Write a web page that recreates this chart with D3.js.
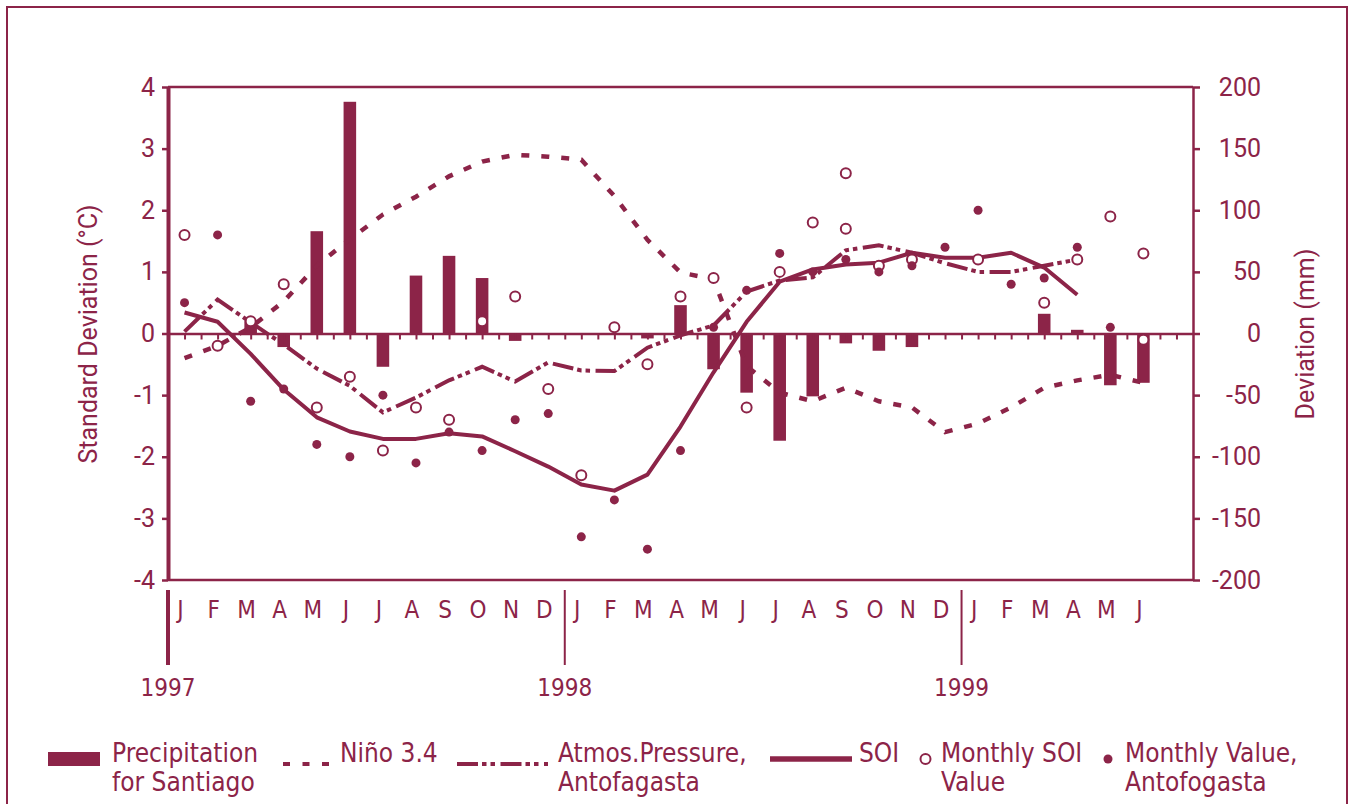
<!DOCTYPE html>
<html>
<head>
<meta charset="utf-8">
<script src="https://cdn.jsdelivr.net/npm/d3@7"></script>
<style>
  body { margin: 0; background: #fff; }
  svg { display: block; }
</style>
</head>
<body>
<svg id="chart-svg" width="1349" height="804"></svg>
<script>
// Month categories, Jan 1997 to Jul 1999
const categories = [
    "1997-01", "1997-02", "1997-03", "1997-04", "1997-05", "1997-06",
    "1997-07", "1997-08", "1997-09", "1997-10", "1997-11", "1997-12",
    "1998-01", "1998-02", "1998-03", "1998-04", "1998-05", "1998-06",
    "1998-07", "1998-08", "1998-09", "1998-10", "1998-11", "1998-12",
    "1999-01", "1999-02", "1999-03", "1999-04", "1999-05", "1999-06",
    "1999-07"
];
const monthTicks = [
    "J", "F", "M", "A", "M", "J", "J", "A", "S", "O", "N", "D",
    "J", "F", "M", "A", "M", "J", "J", "A", "S", "O", "N", "D",
    "J", "F", "M", "A", "M", "J", ""
];
const yearTicks = ["1997", "1998", "1999"];
const yearStarts = ["1997-01", "1998-01", "1999-01"];
const leftTicks = [-4, -3, -2, -1, 0, 1, 2, 3, 4];
const rightTicks = [-200, -150, -100, -50, 0, 50, 100, 150, 200];

// Precipitation for Santiago, deviation (mm), right axis
const precipitation = [
    null, null, 10, -11, 83, 188, -27, 47, 63, 45, -6, null,
    null, null, -4, 23, -29, -48, -87, -51, -8, -14, -11, null,
    null, null, 16, 3, -42, -40, null
];
// Niño 3.4 (standard deviation)
const nino34 = [
    -0.4, -0.2, 0.1, 0.52, 1.1, 1.53, 1.93, 2.22, 2.55, 2.79, 2.9, 2.87,
    2.82, 2.23, 1.52, 0.99, 0.88, -0.53, -0.96, -1.1, -0.88, -1.1, -1.2, -1.6,
    -1.46, -1.2, -0.88, -0.76, -0.67, -0.8
];
// Atmospheric pressure, Antofagasta
const atmosPressure = [
    0.03, 0.55, 0.18, -0.18, -0.57, -0.85, -1.28, -1.04, -0.76, -0.54, -0.78, -0.47,
    -0.6, -0.61, -0.23, -0.03, 0.13, 0.68, 0.86, 0.91, 1.35, 1.43, 1.31, 1.14,
    1.0, 1.0, 1.1, 1.2
];
// SOI
const soi = [
    0.34, 0.19, -0.33, -0.91, -1.36, -1.59, -1.71, -1.71, -1.62, -1.67, -1.91, -2.16,
    -2.45, -2.55, -2.29, -1.51, -0.63, 0.19, 0.84, 1.04, 1.12, 1.15, 1.31, 1.23,
    1.23, 1.31, 1.07, 0.63
];
// Monthly SOI value
const monthlySoi = [
    1.6, -0.2, 0.2, 0.8, -1.2, -0.7, -1.9, -1.2, -1.4, 0.2, 0.6, -0.9,
    -2.3, 0.1, -0.5, 0.6, 0.9, -1.2, 1.0, 1.8, 1.7, 1.1, 1.2, null,
    1.2, null, 0.5, 1.2, 1.9, 1.3, null
];
const monthlySoiExtraMonths = ["1998-09", "1999-06"];
const monthlySoiExtraValues = [2.6, -0.1];
// Monthly value, Antofagasta
const monthlyAntofagasta = [
    0.5, 1.6, -1.1, -0.9, -1.8, -2.0, -1.0, -2.1, -1.6, -1.9, -1.4, -1.3,
    -3.3, -2.7, -3.5, -1.9, 0.1, 0.7, 1.3, 1.0, 1.2, 1.0, 1.1, 1.4,
    2.0, 0.8, 0.9, 1.4, 0.1, null, null
];

const color = "#8C2448";
const condensed = "'DejaVu Sans Condensed', 'DejaVu Sans', sans-serif";
const plain = "Roboto, 'Liberation Sans', sans-serif";

// Function to draw the whole chart
function drawChart() {
    const size = { left: 168, right: 1193, top: 87, bottom: 580 };
    const svg = d3.select("#chart-svg");

    // Outer frame
    svg.append("rect")
        .attr("x", 7).attr("y", 7)
        .attr("width", 1340).attr("height", 840)
        .attr("fill", "none")
        .attr("stroke", color)
        .attr("stroke-width", 2);

    // Scales
    const x = d3.scaleBand().domain(categories).range([size.left, size.right]);
    const cx = c => x(c) + x.bandwidth() / 2;
    const xHalf = d3.scaleLinear().domain([0, categories.length]).range([size.left, size.right]);
    const yLeft = d3.scaleLinear().domain([-4, 4]).range([size.bottom, size.top]);
    const yRight = d3.scaleLinear().domain([-200, 200]).range([size.bottom, size.top]);

    const series = arr => arr.map((v, i) => ({ c: categories[i], v: v }));

    // Top and bottom frame lines
    [4, -4].forEach(v => {
        svg.append("line")
            .attr("x1", size.left).attr("x2", size.right)
            .attr("y1", yLeft(v)).attr("y2", yLeft(v))
            .attr("stroke", color)
            .attr("stroke-width", 2.5);
    });

    // Precipitation bars
    const barWidth = x.bandwidth() * 0.38;
    svg.append("g")
        .selectAll("rect")
        .data(series(precipitation).filter(d => d.v != null))
        .join("rect")
        .attr("x", d => cx(d.c) - barWidth / 2)
        .attr("y", d => yRight(Math.max(0, d.v)))
        .attr("width", barWidth)
        .attr("height", d => Math.abs(yRight(d.v) - yRight(0)))
        .attr("fill", color);

    // Zero line with half month ticks
    const zeroAxis = svg.append("g")
        .attr("transform", `translate(0, ${yLeft(0)})`)
        .call(d3.axisBottom(xHalf)
            .tickValues(d3.range(0.5, categories.length, 0.5))
            .tickSize(6)
            .tickSizeOuter(0)
            .tickFormat(""));
    zeroAxis.select(".domain").attr("stroke", color).attr("stroke-width", 2.5);
    zeroAxis.selectAll(".tick line").attr("stroke", color).attr("stroke-width", 2);

    // Left axis
    const leftAxis = svg.append("g")
        .attr("transform", `translate(${size.left}, 0)`)
        .call(d3.axisLeft(yLeft)
            .tickValues(leftTicks)
            .tickSize(6)
            .tickSizeOuter(0)
            .tickPadding(7)
            .tickFormat(d => d));
    leftAxis.select(".domain").attr("stroke", color).attr("stroke-width", 4);
    leftAxis.selectAll(".tick line").attr("stroke", color).attr("stroke-width", 2.5);
    leftAxis.selectAll("text")
        .attr("fill", color)
        .style("font-family", plain)
        .style("font-size", "25px");

    // Right axis
    const rightAxis = svg.append("g")
        .attr("transform", `translate(${size.right}, 0)`)
        .call(d3.axisRight(yRight)
            .tickValues(rightTicks)
            .tickSize(7)
            .tickSizeOuter(0)
            .tickFormat(d => d));
    rightAxis.select(".domain").attr("stroke", color).attr("stroke-width", 2.5);
    rightAxis.selectAll(".tick line").attr("stroke", color).attr("stroke-width", 2.5);
    rightAxis.selectAll("text")
        .attr("fill", color)
        .attr("x", 68)
        .attr("text-anchor", "end")
        .style("font-family", plain)
        .style("font-size", "25px");

    // Month labels below the chart
    const monthAxis = svg.append("g")
        .attr("transform", "translate(0, 590)")
        .call(d3.axisBottom(x).tickSize(0).tickFormat((d, i) => monthTicks[i]));
    monthAxis.select(".domain").remove();
    monthAxis.selectAll("text")
        .attr("y", 28)
        .attr("dy", 0)
        .attr("dx", -4)
        .attr("fill", color)
        .style("font-family", condensed)
        .style("font-size", "24px");

    // Year separators and labels
    yearStarts.forEach((c, i) => {
        svg.append("line")
            .attr("x1", x(c)).attr("x2", x(c))
            .attr("y1", 590).attr("y2", 665)
            .attr("stroke", color)
            .attr("stroke-width", i == 0 ? 4 : 2);
        svg.append("text")
            .attr("x", x(c))
            .attr("y", 696)
            .attr("text-anchor", "middle")
            .attr("fill", color)
            .style("font-family", condensed)
            .style("font-size", "24px")
            .text(yearTicks[i]);
    });

    // Lines
    const line = d3.line()
        .defined(d => d.v != null)
        .x(d => cx(d.c))
        .y(d => yLeft(d.v));

    svg.append("path")
        .datum(series(nino34))
        .attr("d", line)
        .attr("fill", "none")
        .attr("stroke", color)
        .attr("stroke-width", 4.5)
        .attr("stroke-dasharray", "8,12");

    svg.append("path")
        .datum(series(atmosPressure))
        .attr("d", line)
        .attr("fill", "none")
        .attr("stroke", color)
        .attr("stroke-width", 4)
        .attr("stroke-dasharray", "21,4,4.5,4,4.5,5.5");

    svg.append("path")
        .datum(series(soi))
        .attr("d", line)
        .attr("fill", "none")
        .attr("stroke", color)
        .attr("stroke-width", 4)
        .attr("stroke-linejoin", "round");

    // Monthly markers
    const openPoints = series(monthlySoi).filter(d => d.v != null)
        .concat(monthlySoiExtraMonths.map((c, i) => ({ c: c, v: monthlySoiExtraValues[i] })));
    svg.append("g")
        .selectAll("circle")
        .data(openPoints)
        .join("circle")
        .attr("cx", d => cx(d.c))
        .attr("cy", d => yLeft(d.v))
        .attr("r", 5)
        .attr("fill", "#fff")
        .attr("stroke", color)
        .attr("stroke-width", 2);

    svg.append("g")
        .selectAll("circle")
        .data(series(monthlyAntofagasta).filter(d => d.v != null))
        .join("circle")
        .attr("cx", d => cx(d.c))
        .attr("cy", d => yLeft(d.v))
        .attr("r", 4.5)
        .attr("fill", color);

    // Axis titles
    svg.append("text")
        .attr("transform", "translate(97, 334) rotate(-90)")
        .attr("text-anchor", "middle")
        .attr("fill", color)
        .style("font-family", plain)
        .style("font-size", "25px")
        .text("Standard Deviation (°C)");

    svg.append("text")
        .attr("transform", "translate(1314, 334) rotate(-90)")
        .attr("text-anchor", "middle")
        .attr("fill", color)
        .style("font-family", plain)
        .style("font-size", "25px")
        .text("Deviation (mm)");

    // Legend
    const legend = svg.append("g");
    legend.append("rect")
        .attr("x", 48).attr("y", 752)
        .attr("width", 52).attr("height", 14)
        .attr("fill", color);
    legend.append("line")
        .attr("x1", 283).attr("x2", 331).attr("y1", 764).attr("y2", 764)
        .attr("stroke", color).attr("stroke-width", 4)
        .attr("stroke-dasharray", "7,12.5");
    legend.append("line")
        .attr("x1", 457).attr("x2", 548).attr("y1", 764).attr("y2", 764)
        .attr("stroke", color).attr("stroke-width", 4)
        .attr("stroke-dasharray", "21,4,4.5,4,4.5,5.5");
    legend.append("line")
        .attr("x1", 770).attr("x2", 852).attr("y1", 759).attr("y2", 759)
        .attr("stroke", color).attr("stroke-width", 5.5);
    legend.append("circle")
        .attr("cx", 925.5).attr("cy", 759).attr("r", 5)
        .attr("fill", "#fff").attr("stroke", color).attr("stroke-width", 2);
    legend.append("circle")
        .attr("cx", 1108).attr("cy", 759).attr("r", 4.5)
        .attr("fill", color);

    const legendTexts = [
        { x: 112, lines: ["Precipitation", "for Santiago"] },
        { x: 340, lines: ["Niño 3.4"] },
        { x: 558, lines: ["Atmos.Pressure,", "Antofagasta"] },
        { x: 859, lines: ["SOI"] },
        { x: 941, lines: ["Monthly SOI", "Value"] },
        { x: 1125, lines: ["Monthly Value,", "Antofogasta"] }
    ];
    legendTexts.forEach(item => {
        item.lines.forEach((t, i) => {
            legend.append("text")
                .attr("x", item.x)
                .attr("y", 762 + i * 29)
                .attr("fill", color)
                .style("font-family", condensed)
                .style("font-size", "26px")
                .text(t);
        });
    });
}

drawChart();
</script>
</body>
</html>
